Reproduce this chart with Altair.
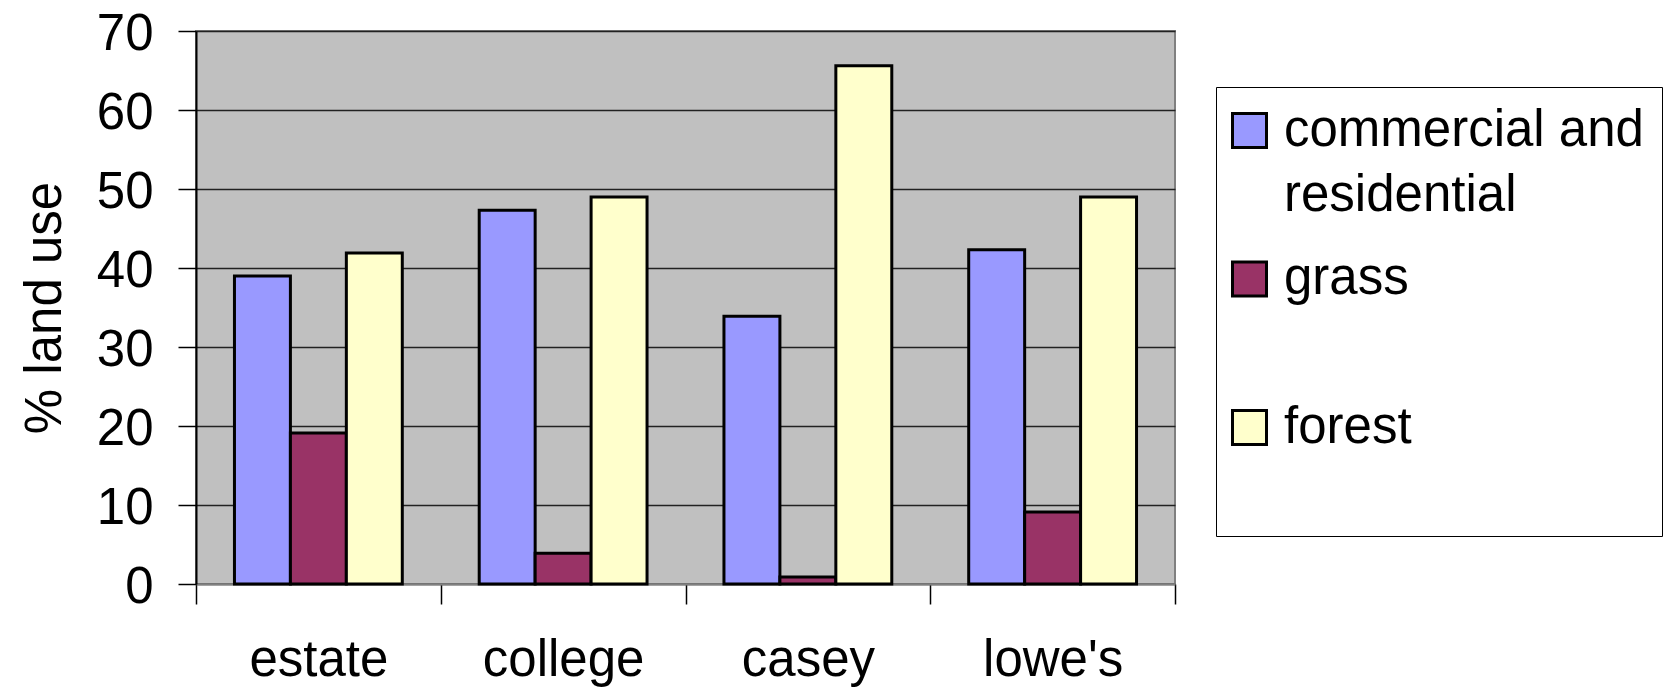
import altair as alt
import pandas as pd

sites = ["estate", "college", "casey", "lowe's"]
series = ["commercial and residential", "grass", "forest"]
commercial = [39.0, 47.3, 33.9, 42.3]
grass = [19.1, 3.9, 0.9, 9.1]
forest = [41.9, 49.0, 65.6, 49.0]
colors = ["#9999FF", "#993366", "#FFFFCC"]
y_ticks = [0, 10, 20, 30, 40, 50, 60, 70]

rows = []
for name, vals in zip(series, [commercial, grass, forest]):
    for s, v in zip(sites, vals):
        rows.append({"site": s, "series": name, "value": v})
df = pd.DataFrame(rows)

FONT = "Liberation Sans"

chart = (
    alt.Chart(df)
    .mark_bar(stroke="black", strokeWidth=3)
    .encode(
        x=alt.X(
            "site:N",
            sort=sites,
            scale=alt.Scale(paddingInner=0, paddingOuter=0),
            axis=alt.Axis(
                title=None,
                labelAngle=0,
                labelFontSize=51,
                labelFont=FONT,
                labelColor="black",
                labelPadding=31,
                tickBand="extent",
                tickSize=20,
                tickColor="black",
                tickWidth=1.5,
                domainColor="#808080",
                domainWidth=2,
            ),
        ),
        xOffset=alt.XOffset(
            "series:N",
            sort=series,
            scale=alt.Scale(paddingInner=0, paddingOuter=0.6875),
        ),
        y=alt.Y(
            "value:Q",
            scale=alt.Scale(domain=[0, 70], nice=False),
            axis=alt.Axis(
                title="% land use",
                values=y_ticks,
                titleFontSize=51,
                titleFont=FONT,
                titleFontWeight="normal",
                titleColor="black",
                titlePadding=25,
                labelFontSize=51,
                labelFont=FONT,
                labelColor="black",
                labelPadding=25,
                labelOffset=3,
                tickSize=18,
                tickColor="black",
                tickWidth=1.5,
                domainColor="black",
                domainWidth=2,
                grid=True,
                gridColor="#222222",
                gridWidth=1.5,
            ),
        ),
        color=alt.Color(
            "series:N",
            sort=series,
            scale=alt.Scale(domain=series, range=colors),
            legend=alt.Legend(
                title=None,
                orient="none",
                legendX=1020,
                legendY=56,
                direction="vertical",
                symbolType="square",
                symbolSize=1156,
                symbolStrokeColor="black",
                symbolStrokeWidth=3,
                symbolOpacity=1,
                symbolOffset=-10,
                labelFontSize=51,
                labelFont=FONT,
                labelColor="black",
                labelLimit=600,
                labelOffset=9,
                labelExpr="datum.label == 'commercial and residential' ? ['commercial and', 'residential'] : [datum.label, '']",
                rowPadding=31.5,
                padding=18,
                strokeColor="black",
                fillColor="white",
            ),
        ),
    )
    .properties(
        width=979,
        height=553,
        autosize=alt.AutoSizeParams(type="none"),
        padding={"left": 188, "top": 23, "right": 490, "bottom": 104},
    )
    .configure(style={"guide-label": {"lineHeight": 65}})
    .configure_view(fill="#C0C0C0", stroke="#808080", strokeWidth=2)
)

chart.save("out.html", embed_options={"renderer": "svg", "actions": False})
